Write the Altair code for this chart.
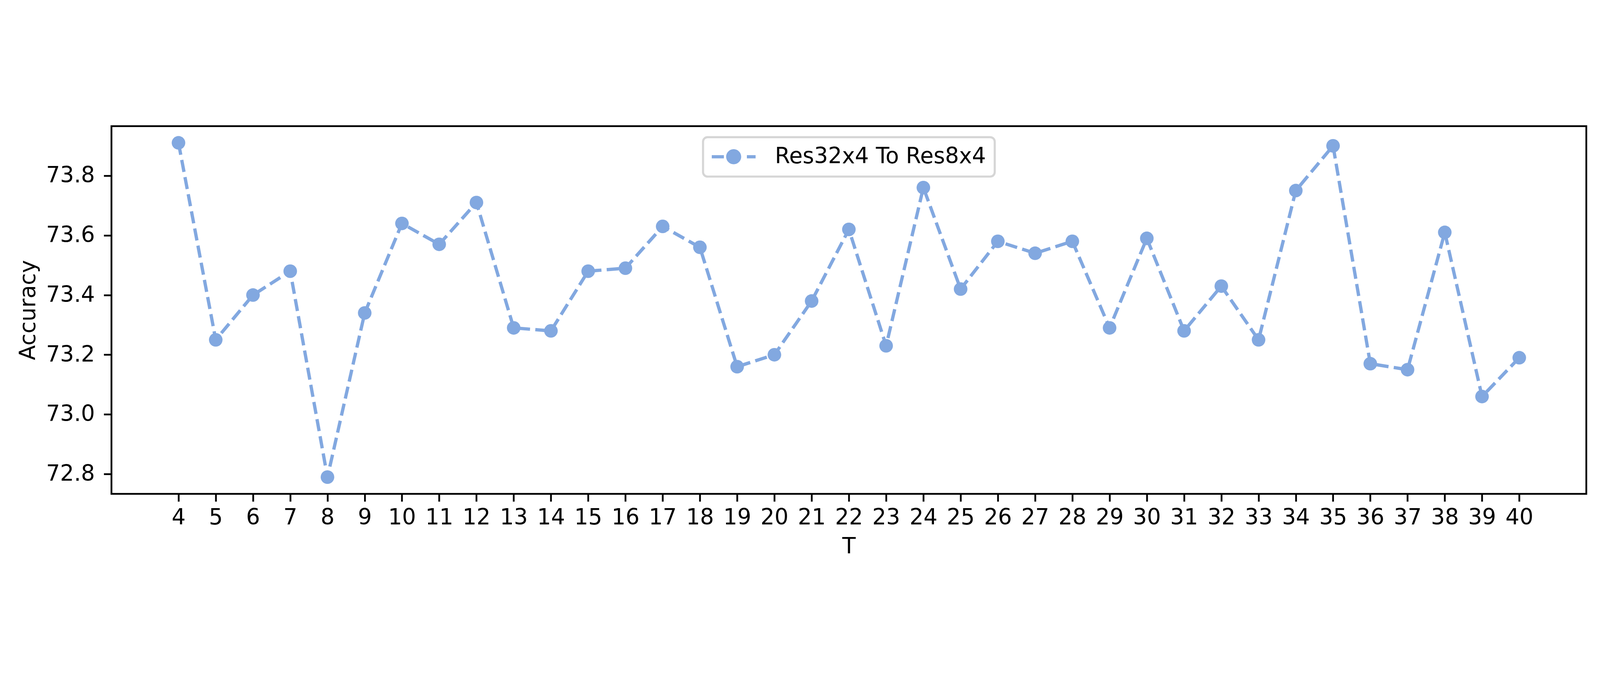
import altair as alt
import pandas as pd

# T values on the x axis
t_values = list(range(4, 41))
# accuracy
accuracy = [73.91, 73.25, 73.40, 73.48, 72.79, 73.34, 73.64, 73.57, 73.71, 73.29,
            73.28, 73.48, 73.49, 73.63, 73.56, 73.16, 73.20, 73.38, 73.62, 73.23,
            73.76, 73.42, 73.58, 73.54, 73.58, 73.29, 73.59, 73.28, 73.43, 73.25,
            73.75, 73.90, 73.17, 73.15, 73.61, 73.06, 73.19]
series_name = "Res32x4 To Res8x4"
y_ticks = [72.8, 73.0, 73.2, 73.4, 73.6, 73.8]

df = pd.DataFrame({"T": t_values, "Accuracy": accuracy, "series": series_name})

blue = "#82a8e0"
font = "DejaVu Sans"
fs = 83

x = alt.X("T:Q", title="T",
          scale=alt.Scale(domain=[2.2, 41.8], nice=False, zero=False),
          axis=alt.Axis(values=t_values, format="d", labelAngle=0, labelFlush=False,
                        labelOverlap=False, grid=False, domain=False,
                        tickSize=29, tickWidth=6.7, tickColor="black",
                        labelPadding=20, titlePadding=27))
y = alt.Y("Accuracy:Q", title="Accuracy",
          scale=alt.Scale(domain=[72.734, 73.966], nice=False, zero=False),
          axis=alt.Axis(values=y_ticks, format=".1f", grid=False, domain=False,
                        tickSize=29, tickWidth=6.7, tickColor="black",
                        labelPadding=34, titlePadding=72, labelLimit=1000))

# legend handle: dashed segment with a dot in the middle, like matplotlib's
handle = ("M-1,-0.072H-0.446V0.072H-1Z "
          "M0.602,-0.072H1V0.072H0.602Z "
          "M-0.343,0A0.343,0.343 0 1,0 0.343,0A0.343,0.343 0 1,0 -0.343,0Z")

line = alt.Chart(df).mark_line(color=blue, strokeWidth=12.5, strokeDash=[46, 20],
                               strokeJoin="round").encode(x=x, y=y)

points = alt.Chart(df).mark_point(filled=True, size=2642, opacity=1, shape="circle").encode(
    x=x, y=y,
    color=alt.Color("series:N", scale=alt.Scale(domain=[series_name], range=[blue]),
                    legend=alt.Legend(title=None, orient="none", legendX=2239, legendY=42,
                                      symbolType=handle, symbolSize=27556,
                                      symbolStrokeWidth=0, symbolOpacity=1,
                                      symbolFillColor=blue, clipHeight=82,
                                      labelOffset=73, padding=33, labelLimit=3000,
                                      fillColor="white", strokeColor="#d6d6d6",
                                      cornerRadius=17)))

chart = alt.layer(line, points).properties(
    width=5582, height=1392,
    autosize=alt.AutoSizeParams(type="none"),
    padding={"left": 410, "top": 51, "right": 40, "bottom": 290},
).configure_view(
    stroke="black", strokeWidth=6.7
).configure_axis(
    labelFont=font, labelFontSize=fs, labelColor="black",
    titleFont=font, titleFontSize=fs, titleColor="black", titleFontWeight="normal"
).configure_legend(
    labelFont=font, labelFontSize=fs, labelColor="black", strokeWidth=8
)

chart.save("out.html", embed_options={"renderer": "svg", "actions": False})
